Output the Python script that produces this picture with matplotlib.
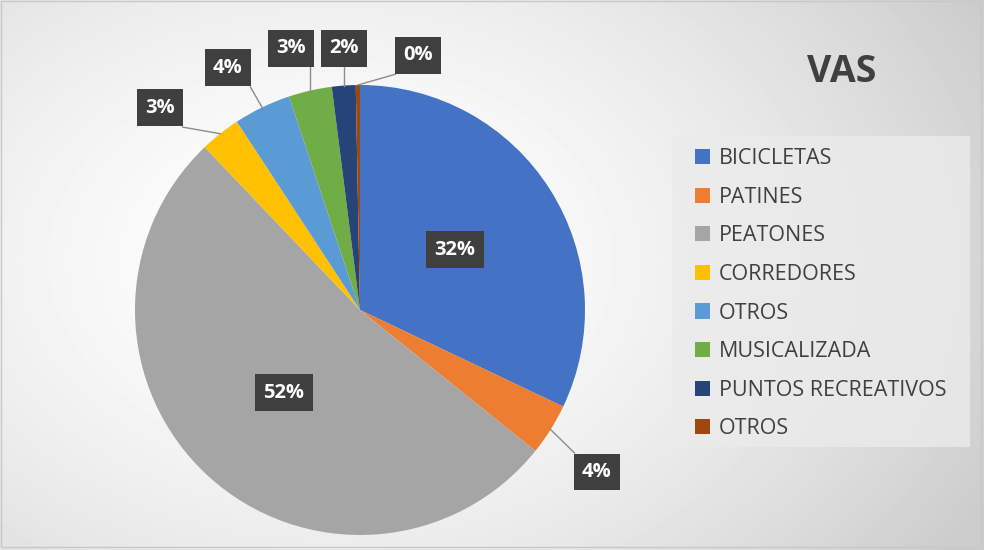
import matplotlib.pyplot as plt
import numpy as np
from matplotlib.patches import Rectangle

plt.rcParams['font.family'] = ['Open Sans', 'DejaVu Sans']

# datos
categorias = ['BICICLETAS', 'PATINES', 'PEATONES', 'CORREDORES', 'OTROS',
              'MUSICALIZADA', 'PUNTOS RECREATIVOS', 'OTROS']
valores = [32.0, 3.7, 52.0, 2.9, 4.1, 3.1, 1.7, 0.3]
colores = ['#4472C4', '#ED7D31', '#A5A5A5', '#FFC000', '#5B9BD5',
           '#70AD47', '#264478', '#9E480E']

# posicion de las etiquetas fuera del pastel (None = dentro)
pos_etiquetas = [None, (1.053, -0.72), None, (-0.889, 0.898), (-0.587, 1.076),
                 (-0.307, 1.164), (-0.071, 1.164), (0.258, 1.133)]

fig = plt.figure(figsize=(9.84, 5.5), dpi=100)

# fondo con degradado
bg = fig.add_axes([0, 0, 1, 1], zorder=-10)
yy, xx = np.mgrid[0:550, 0:984]
d = np.sqrt(((xx - 330) / 984.0) ** 2 + ((yy - 260) / 700.0) ** 2)
g = 1.0 - 0.2 * np.clip(d / 0.75, 0, 1) ** 1.6
bg.imshow(g, cmap='gray', vmin=0, vmax=1, aspect='auto', extent=[0, 984, 550, 0])
bg.axis('off')
bg.add_patch(Rectangle((1, 1), 980, 546, fill=False, edgecolor='#c8c8c8', lw=1))

ax = fig.add_axes([(360 - 225) / 984, (550 - 535) / 550, 450 / 984, 450 / 550])
wedges, _ = ax.pie(valores, colors=colores, startangle=90, counterclock=False,
                   radius=1.0)
ax.set_xlim(-1, 1)
ax.set_ylim(-1, 1)
ax.set_aspect('equal')
ax.axis('off')

total = sum(valores)
caja = dict(boxstyle='square,pad=0.42', fc='#3f3f3f', ec='none')
hw, hh = 0.1, 0.085
for w, v, pos in zip(wedges, valores, pos_etiquetas):
    ang = np.deg2rad((w.theta1 + w.theta2) / 2)
    txt = f'{round(v / total * 100):.0f}%'
    if pos is None:
        x, y = 0.5 * np.cos(ang), 0.5 * np.sin(ang)
    else:
        x, y = pos
        px, py = np.cos(ang), np.sin(ang)
        ex = np.clip(px, x - hw, x + hw)
        ey = np.clip(py, y - hh, y + hh)
        ax.plot([px, ex], [py, ey], color='#8c8c8c', lw=1, clip_on=False)
    ax.text(x, y, txt, ha='center', va='center', color='white', fontsize=14.5,
            fontweight='bold', bbox=caja, clip_on=False, zorder=5)

fig.text(842 / 984, 1 - 72 / 550, 'VAS', ha='center', va='center',
         fontsize=27, fontweight='bold', color='#404040')

# leyenda
fig.patches.append(Rectangle((672 / 984, 1 - 447 / 550), 298 / 984, 311 / 550,
                             transform=fig.transFigure, fc='#ebebeb', ec='none',
                             alpha=0.8, zorder=-5))
handles = [Rectangle((0, 0), 1, 1, fc=c) for c in colores]
fig.legend(handles, categorias, loc='upper left',
           bbox_to_anchor=(676 / 984, 1 - 129 / 550), frameon=False,
           fontsize=15.5, labelcolor='#404040', handlelength=0.7,
           handleheight=0.7, handletextpad=0.4, labelspacing=0.815)

fig.savefig('out.png', dpi=100)
plt.close(fig)
